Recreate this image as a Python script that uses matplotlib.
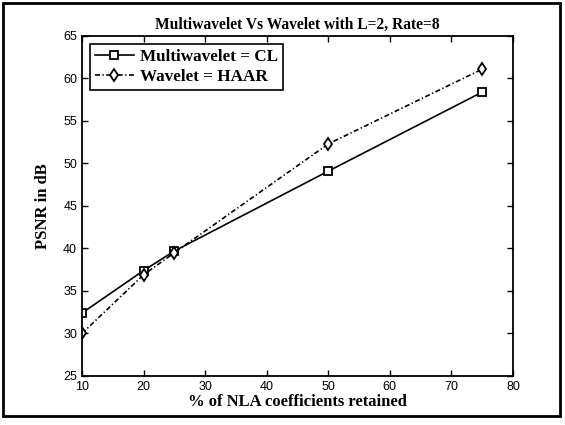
import matplotlib
matplotlib.use('Agg')
import matplotlib.pyplot as plt
from matplotlib.patches import Rectangle

# data
retained = [10, 20, 25, 50, 75]
psnr_multi = [32.4, 37.4, 39.7, 49.1, 58.4]
psnr_haar = [30.0, 36.9, 39.5, 52.3, 61.1]

fig = plt.figure(figsize=(5.65, 4.25), dpi=100)
ax = fig.add_axes([0.145, 0.1153, 0.763, 0.8])

ax.plot(retained, psnr_multi, '-', color='black', lw=1.2, marker='s', ms=6,
        mfc='white', mec='black', mew=1.3, label='Multiwavelet = CL')
ax.plot(retained, psnr_haar, color='black', lw=1.2, dashes=(3, 1.5, 0.8, 1.5),
        marker='d', ms=6.5, mfc='white', mec='black', mew=1.3,
        label='Wavelet = HAAR')

ax.set_xlim(10, 80)
ax.set_ylim(25, 65)
ax.set_xticks(range(10, 81, 10))
ax.set_yticks(range(25, 66, 5))
ax.tick_params(direction='in', top=True, right=True, length=4, width=1,
               labelsize=9)
for lab in ax.get_xticklabels() + ax.get_yticklabels():
    lab.set_family('Liberation Sans')
for s in ax.spines.values():
    s.set_linewidth(1.3)

serif = {'family': 'Liberation Serif', 'weight': 'bold'}
ax.set_title('Multiwavelet Vs Wavelet with L=2, Rate=8', fontsize=11.2, pad=5, **serif)
ax.set_xlabel('% of NLA coefficients retained', fontsize=12, labelpad=1, **serif)
ax.set_ylabel('PSNR in dB', fontsize=12, labelpad=9, **serif)

leg = ax.legend(loc='upper left', prop={'family': 'Liberation Serif', 'weight': 'bold', 'size': 12.3},
                fancybox=False, edgecolor='black', framealpha=1, handlelength=2.3,
                borderpad=0.3, labelspacing=0.25, handletextpad=0.35,
                borderaxespad=0.45)
leg.get_frame().set_linewidth(1.2)

# outer frame around the whole figure
fig.patches.append(Rectangle((0.006, 0.022), 0.985, 0.971, transform=fig.transFigure,
                             fill=False, edgecolor='black', lw=2))

fig.savefig('out.png', dpi=100)
